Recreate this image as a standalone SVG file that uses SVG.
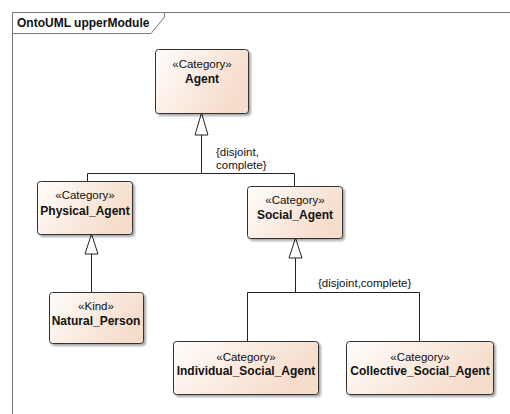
<svg xmlns="http://www.w3.org/2000/svg" width="510" height="414" viewBox="0 0 510 414">
<defs>
<linearGradient id="g" x1="0" y1="0" x2="1" y2="0.4">
<stop offset="0" stop-color="#fffdfb"/>
<stop offset="1" stop-color="#f6dccb"/>
</linearGradient>
<filter id="sh" x="-10%" y="-10%" width="130%" height="130%">
<feGaussianBlur in="SourceAlpha" stdDeviation="1.2"/>
<feOffset dx="2" dy="2"/>
<feComponentTransfer><feFuncA type="linear" slope="0.35"/></feComponentTransfer>
<feMerge><feMergeNode/><feMergeNode in="SourceGraphic"/></feMerge>
</filter>
</defs>
<style>
.box{fill:url(#g);stroke:#333;stroke-width:1;filter:url(#sh)}
.st{font-family:"Liberation Sans",Arial,sans-serif;font-size:11.5px;fill:#111;text-anchor:middle}
.nm{font-family:"Liberation Sans",Arial,sans-serif;font-size:12px;font-weight:bold;fill:#111;text-anchor:middle}
.ln{fill:none;stroke:#222;stroke-width:1}
.tri{fill:#fff;stroke:#222;stroke-width:1}
.lb{font-family:"Liberation Sans",Arial,sans-serif;font-size:11.5px;fill:#111}
</style>
<rect width="510" height="414" fill="#fff"/>
<g id="frame">
<path d="M12.5,414 V12.5 H510" fill="none" stroke="#777" stroke-width="1"/>
<path d="M12.5,33.5 H151 L164.5,17 V12.5" fill="none" stroke="#777" stroke-width="1"/>
<text x="17" y="27" style="font-family:'Liberation Sans',Arial,sans-serif;font-size:12px;font-weight:bold;fill:#111">OntoUML upperModule</text>
</g>
<g id="connectors">
<path class="ln" d="M201.5,135 V173.5 M87.5,181 V173.5 H294.5 V186"/>
<polygon class="tri" points="201.5,113 195,135 208,135"/>
<path class="ln" d="M91.5,254 V292"/>
<polygon class="tri" points="91.5,234 85,254 98,254"/>
<path class="ln" d="M295.5,258 V292.5 M247.5,341 V292.5 H419.5 V341"/>
<polygon class="tri" points="295.5,238 289,258 302,258"/>
<text class="lb" x="216" y="156">{disjoint,</text>
<text class="lb" x="216" y="169">complete}</text>
<text class="lb" x="318" y="287">{disjoint,complete}</text>
</g>
<g id="Agent">
<rect class="box" x="155.5" y="49.5" width="93" height="64" rx="3"/>
<text class="st" x="202" y="68">«Category»</text>
<text class="nm" x="202" y="83">Agent</text>
</g>
<g id="Physical_Agent">
<rect class="box" x="37.5" y="181.5" width="95" height="53" rx="3"/>
<text class="st" x="85" y="199">«Category»</text>
<text class="nm" x="85" y="215">Physical_Agent</text>
</g>
<g id="Social_Agent">
<rect class="box" x="247.5" y="186.5" width="95" height="52" rx="3"/>
<text class="st" x="295" y="204">«Category»</text>
<text class="nm" x="295" y="219">Social_Agent</text>
</g>
<g id="Natural_Person">
<rect class="box" x="49.5" y="292.5" width="94" height="51" rx="3"/>
<text class="st" x="96" y="310">«Kind»</text>
<text class="nm" x="96" y="325">Natural_Person</text>
</g>
<g id="Individual_Social_Agent">
<rect class="box" x="173.5" y="341.5" width="145" height="53" rx="3"/>
<text class="st" x="246" y="361">«Category»</text>
<text class="nm" x="246" y="375">Individual_Social_Agent</text>
</g>
<g id="Collective_Social_Agent">
<rect class="box" x="346.5" y="341.5" width="147" height="53" rx="3"/>
<text class="st" x="420" y="361">«Category»</text>
<text class="nm" x="420" y="375">Collective_Social_Agent</text>
</g>
</svg>
